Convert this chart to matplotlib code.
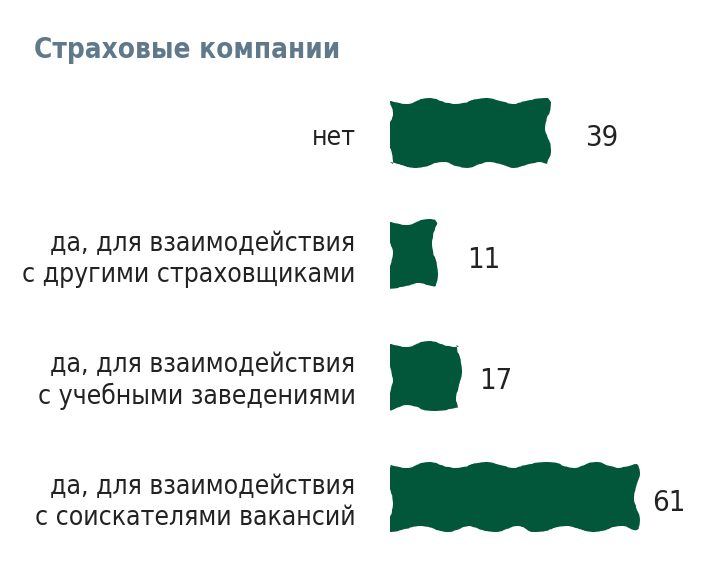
import matplotlib
matplotlib.use("Agg")
import matplotlib.pyplot as plt

categories = [
    "нет",
    "да, для взаимодействия\nс другими страховщиками",
    "да, для взаимодействия\nс учебными заведениями",
    "да, для взаимодействия\nс соискателями вакансий",
]
values = [39, 11, 17, 61]
title = "Страховые компании"

# gap between bar end and its number differs per bar in the source
label_pad = [9.1, 8.1, 5.0, 3.8]

plt.rcParams["font.family"] = ["DejaVu Sans"]
plt.rcParams["font.stretch"] = "condensed"

fig = plt.figure(figsize=(7.22, 5.86), dpi=100)
ax = fig.add_axes([390 / 722, 1 - 558 / 586, 324 / 722, (558 - 72) / 586])

bars = ax.barh(range(len(values)), values, height=0.53, color="#02563a", linewidth=0)
for b in bars:
    b.set_sketch_params(scale=3, length=70, randomness=3.5)

dy = 0.045
for i, v in enumerate(values):
    ax.text(v + label_pad[i], i + dy, str(v), va="center", ha="left", fontsize=21,
            color="#222222")
    ax.text(-8.5, i + dy, categories[i], va="center", ha="right", fontsize=19,
            color="#222222", linespacing=1.25)

ax.set_xlim(0, 80)
ax.set_ylim(3.5, -0.5)
ax.axis("off")

fig.text(34 / 722, 1 - 50 / 586, title, fontsize=20, fontweight="bold",
         color="#60798a", va="center", ha="left")

fig.savefig("out.png", dpi=100)
